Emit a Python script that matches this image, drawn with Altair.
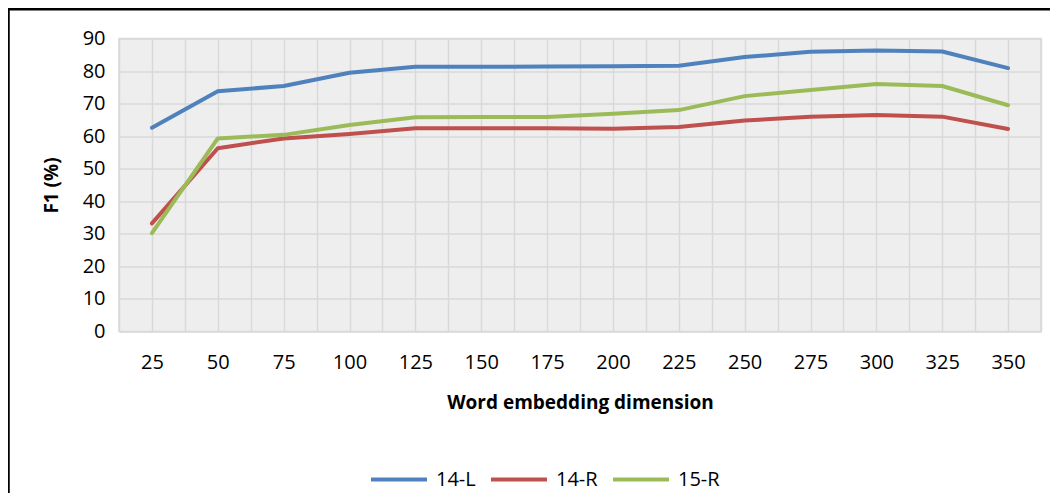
import altair as alt
import pandas as pd

dims = [25, 50, 75, 100, 125, 150, 175, 200, 225, 250, 275, 300, 325, 350]
f1_14L = [62.6, 73.8, 75.4, 79.5, 81.3, 81.3, 81.4, 81.5, 81.6, 84.3, 85.9, 86.3, 86.0, 80.9]
f1_14R = [33.2, 56.3, 59.3, 60.7, 62.4, 62.4, 62.4, 62.3, 62.8, 64.8, 66.0, 66.5, 66.0, 62.2]
f1_15R = [30.2, 59.3, 60.4, 63.4, 65.8, 65.9, 65.9, 66.9, 68.0, 72.3, 74.2, 76.0, 75.4, 69.5]
series = ["14-L", "14-R", "15-R"]
colors = ["#4f81bd", "#c0504d", "#9bbb59"]
y_ticks = [0, 10, 20, 30, 40, 50, 60, 70, 80, 90]

rows = []
for name, vals in zip(series, [f1_14L, f1_14R, f1_15R]):
    for d, v in zip(dims, vals):
        rows.append({"dim": d, "f1": v, "series": name})
df = pd.DataFrame(rows)

# gridlines at every category and half-way between (Excel-like)
grid_vals = sorted(set([d - 12.5 for d in dims] + dims + [dims[-1] + 12.5]))

FONT = "Open Sans"

lines = alt.Chart(df).mark_line(strokeWidth=4, strokeJoin="round", strokeCap="round").encode(
    x=alt.X("dim:Q",
            scale=alt.Scale(domain=[dims[0] - 12.5, dims[-1] + 12.5], nice=False, zero=False),
            axis=alt.Axis(values=grid_vals,
                          labelExpr="datum.value % 25 == 0 ? datum.label : ''",
                          title="Word embedding dimension",
                          labelPadding=21, titlePadding=21)),
    y=alt.Y("f1:Q",
            scale=alt.Scale(domain=[0, 90], nice=False),
            axis=alt.Axis(values=y_ticks, title="F1 (%)", labelPadding=14, titlePadding=21)),
    color=alt.Color("series:N",
                    scale=alt.Scale(domain=series, range=colors),
                    legend=alt.Legend(title=None, orient="none", direction="horizontal",
                                      legendX=250, legendY=411,
                                      symbolType="stroke", symbolSize=3136,
                                      symbolStrokeWidth=4, labelFontSize=20,
                                      labelFont=FONT, labelColor="#000000",
                                      labelOffset=7, columnPadding=7)),
)

frame = alt.Data(values=[{}])
border_top = alt.Chart(frame).mark_rule(stroke="#000000", strokeWidth=2.5).encode(
    x=alt.value(-110.5), x2=alt.value(940), y=alt.value(-29.2)
)
border_left = alt.Chart(frame).mark_rule(stroke="#000000", strokeWidth=2.5).encode(
    x=alt.value(-110.5), y=alt.value(-30.4), y2=alt.value(470)
)

chart = alt.layer(border_top, border_left, lines).properties(
    width=922, height=293,
    autosize=alt.AutoSizeParams(type="none"),
    padding={"left": 111, "top": 30.5, "right": 9, "bottom": 161},
    background="white",
).configure_view(
    fill="#eeeeee", stroke="#d9d9d9", strokeWidth=1.5
).configure_axis(
    grid=True, gridColor="#d9d9d9", gridWidth=1.5,
    domain=False, ticks=False,
    labelFont=FONT, labelFontSize=20, labelColor="#000000",
    titleFont=FONT, titleFontSize=19, titleFontWeight="bold", titleColor="#000000",
)

chart.save("out.html", embed_options={"renderer": "svg", "actions": False})
